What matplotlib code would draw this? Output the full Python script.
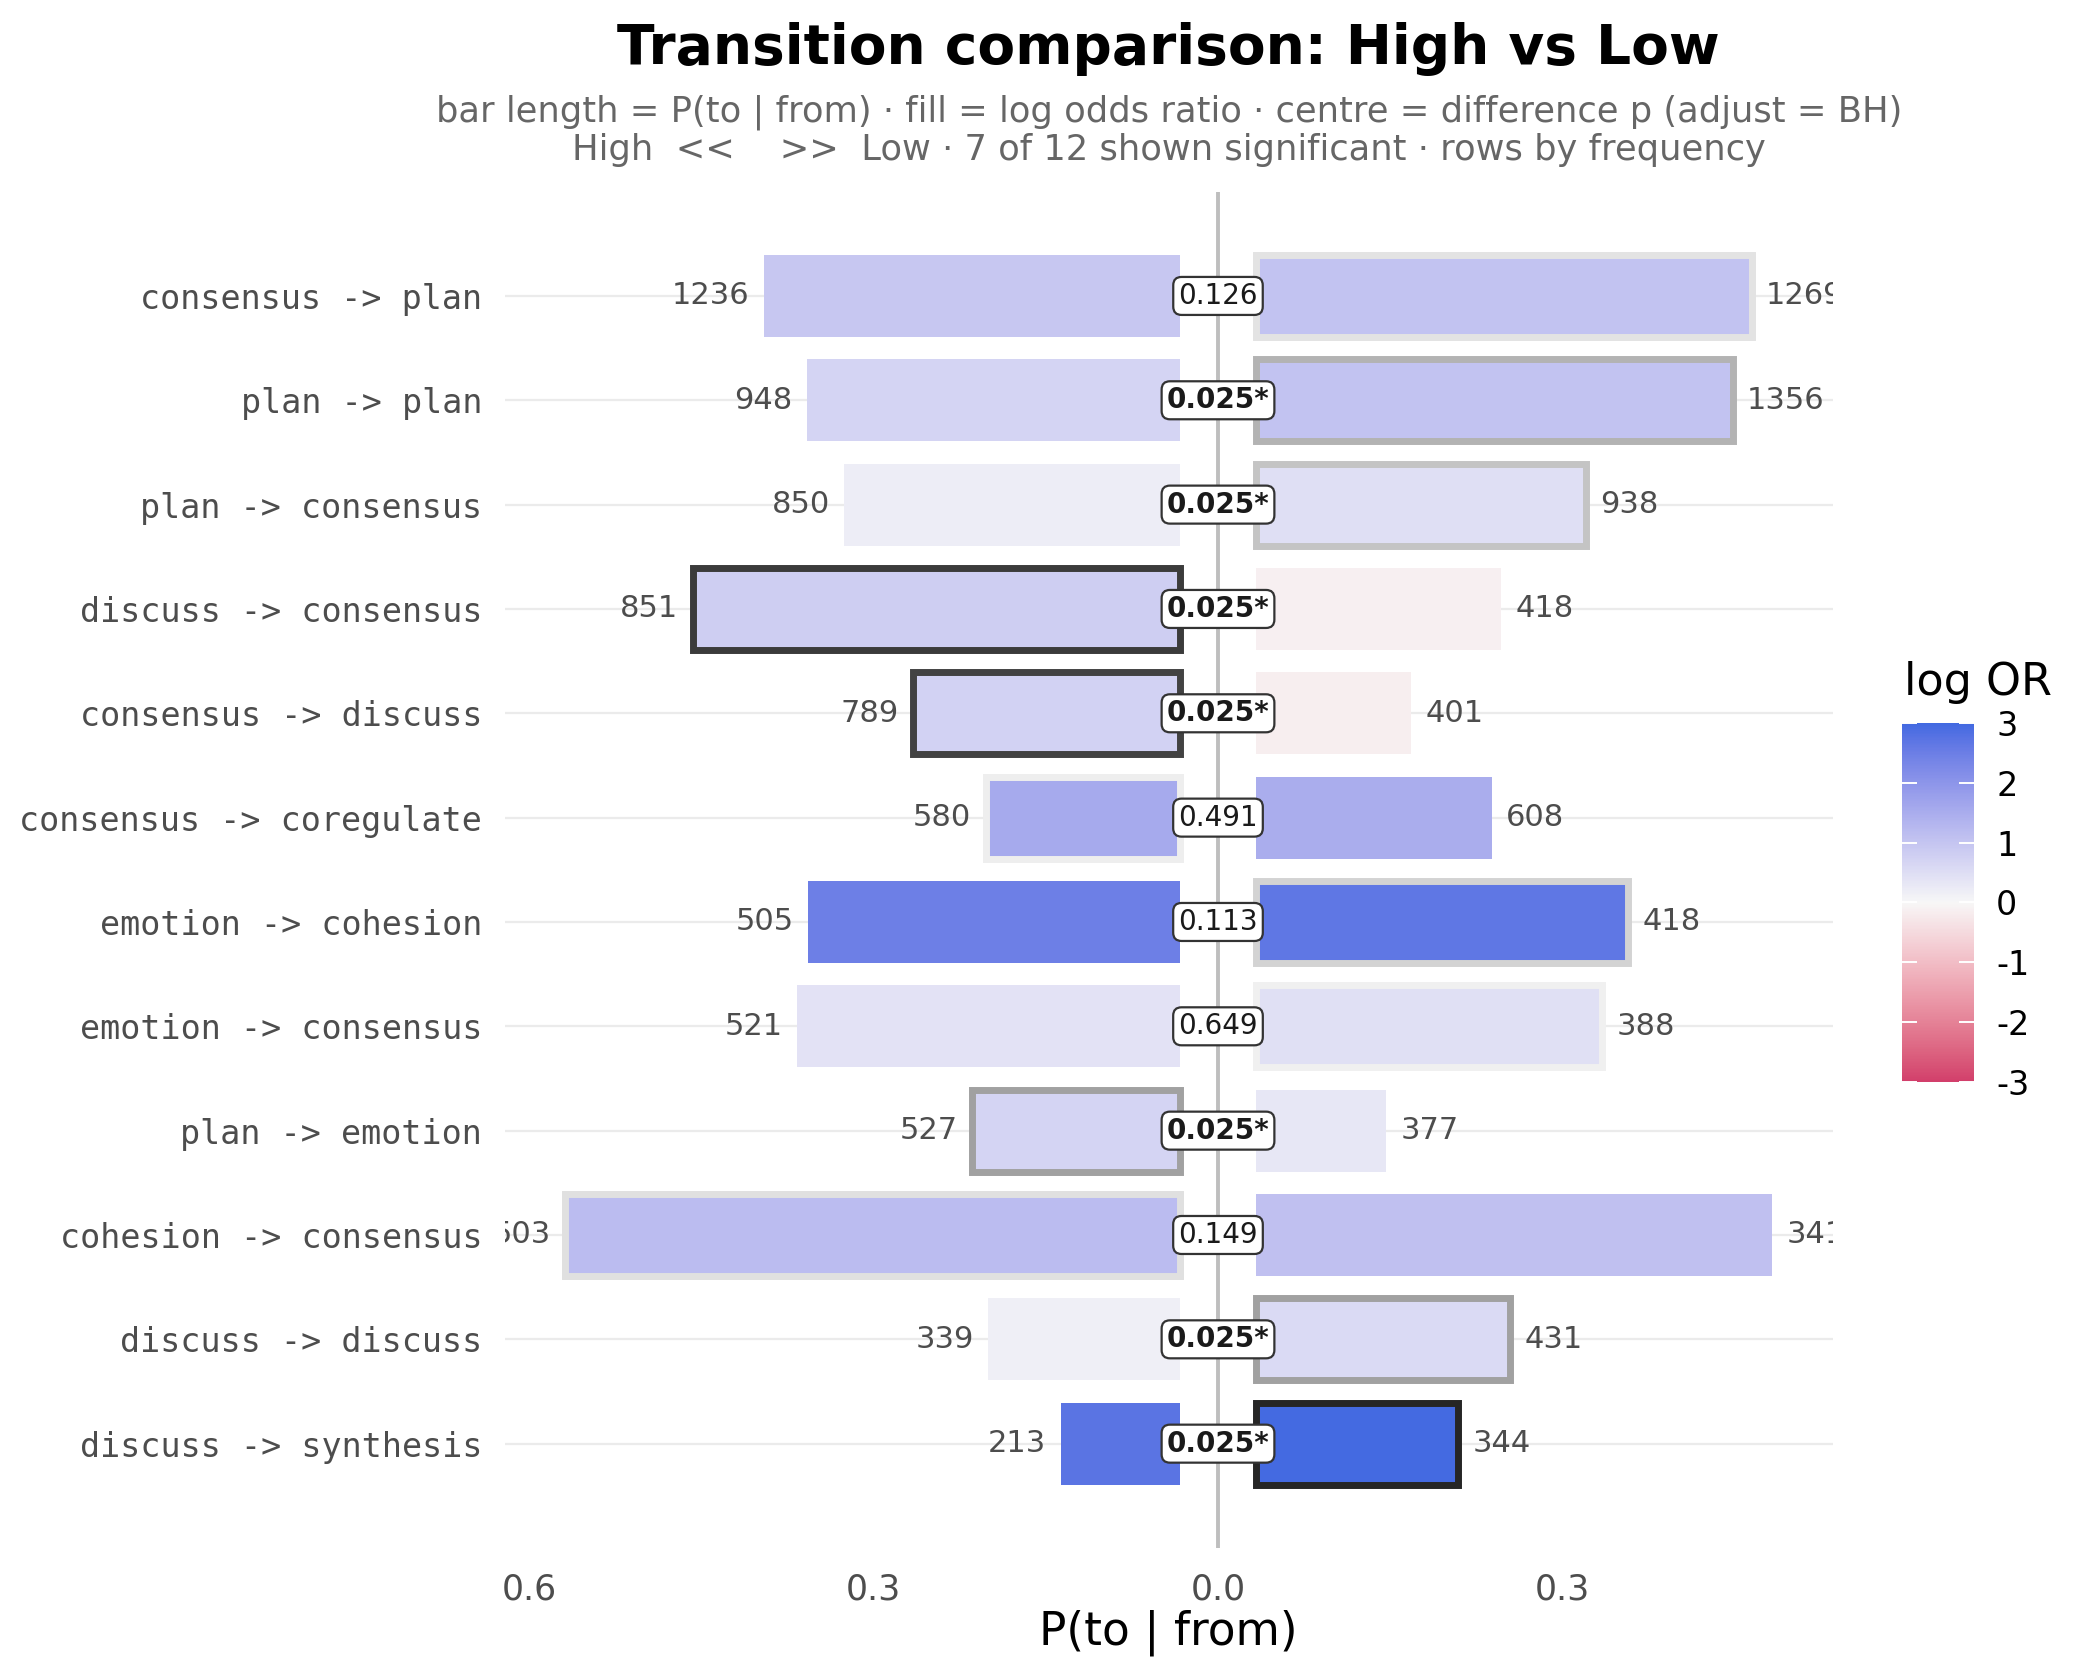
import numpy as np
import matplotlib
matplotlib.use("Agg")
import matplotlib.pyplot as plt
import matplotlib.colors as mcolors
from matplotlib.colors import ListedColormap, Normalize
from matplotlib.cm import ScalarMappable

# ---------------- data ----------------
transitions = ["consensus -> plan", "plan -> plan", "plan -> consensus",
               "discuss -> consensus", "consensus -> discuss", "consensus -> coregulate",
               "emotion -> cohesion", "emotion -> consensus", "plan -> emotion",
               "cohesion -> consensus", "discuss -> discuss", "discuss -> synthesis"]
p_high = [0.362, 0.325, 0.292, 0.424, 0.232, 0.169, 0.324, 0.333, 0.181, 0.535, 0.1666, 0.1036]
p_low = [0.4316, 0.415, 0.287, 0.213, 0.1345, 0.205, 0.324, 0.301, 0.113, 0.449, 0.221, 0.1757]
n_high = [1236, 948, 850, 851, 789, 580, 505, 521, 527, 503, 339, 213]
n_low = [1269, 1356, 938, 418, 401, 608, 418, 388, 377, 341, 431, 344]
p_adj = [0.126, 0.025, 0.025, 0.025, 0.025, 0.491, 0.113, 0.649, 0.025, 0.149, 0.025, 0.025]
lor_high = [0.95, 0.68, 0.19, 0.82, 0.74, 1.56, 2.47, 0.40, 0.68, 1.19, 0.16, 2.74]
lor_low = [1.05, 1.05, 0.49, -0.13, -0.15, 1.48, 2.66, 0.46, 0.31, 1.08, 0.58, 2.96]
edge_high = [None, None, None, "#3B3B3B", "#424242", "#EEEEEE", None, None, "#A1A1A1", "#E0E0E0", None, None]
edge_low = ["#E3E3E3", "#B3B3B3", "#C4C4C4", None, None, None, "#D3D3D3", "#F0F0F0", None, None, "#A1A1A1", "#262626"]
x_ticks = [-0.6, -0.3, 0.0, 0.3]
x_ticklabels = ["0.6", "0.3", "0.0", "0.3"]
cbar_ticks = [-3, -2, -1, 0, 1, 2, 3]

# ---------------- colour scale (Lab interpolation like ggplot gradient2) ----------------
LOW, MID, HIGH = "#D23F6B", "#F7F7F7", "#4169E1"
_M = np.array([[0.4124564, 0.3575761, 0.1804375],
               [0.2126729, 0.7151522, 0.0721750],
               [0.0193339, 0.1191920, 0.9503041]])
_W = np.array([0.95047, 1.0, 1.08883])


def to_lab(h):
    rgb = np.array(mcolors.to_rgb(h))
    lin = np.where(rgb <= 0.04045, rgb / 12.92, ((rgb + 0.055) / 1.055) ** 2.4)
    xyz = _M @ lin / _W
    f = np.where(xyz > (6 / 29) ** 3, np.cbrt(xyz), xyz / (3 * (6 / 29) ** 2) + 4 / 29)
    return np.array([116 * f[1] - 16, 500 * (f[0] - f[1]), 200 * (f[1] - f[2])])


def from_lab(lab):
    fy = (lab[0] + 16) / 116
    f = np.array([fy + lab[1] / 500, fy, fy - lab[2] / 200])
    xyz = _W * np.where(f > 6 / 29, f ** 3, 3 * (6 / 29) ** 2 * (f - 4 / 29))
    lin = np.clip(np.linalg.solve(_M, xyz), 0, 1)
    return np.clip(np.where(lin <= 0.0031308, 12.92 * lin, 1.055 * lin ** (1 / 2.4) - 0.055), 0, 1)


lab_low, lab_mid, lab_high = to_lab(LOW), to_lab(MID), to_lab(HIGH)
cols = []
for t in np.linspace(-1, 1, 256):
    if t < 0:
        cols.append(from_lab(lab_mid + (-t) * (lab_low - lab_mid)))
    else:
        cols.append(from_lab(lab_mid + t * (lab_high - lab_mid)))
cmap = ListedColormap(cols)
norm = Normalize(-3, 3)

# ---------------- figure ----------------
plt.rcParams["font.family"] = ["DejaVu Sans"]
fig = plt.figure(figsize=(10.5, 8.4), dpi=200)
W, H = 2100, 1680
PL, PR, PT, PB = 504.5, 1833.0, 191.6, 1548.0
ax = fig.add_axes([PL / W, 1 - PB / H, (PR - PL) / W, (PB - PT) / H])

GAP = 0.0334
BAR_H = 0.785
PAD = 0.0125
rows = np.arange(1, len(transitions) + 1)

for y in rows:
    ax.axhline(y, color="#EBEBEB", lw=0.8, zorder=0)
ax.axvline(0, color="#BEBEBE", lw=1.4, zorder=1)

for i, y in enumerate(rows):
    # High (left)
    ec = edge_high[i]
    ax.barh(y, -p_high[i], left=-GAP, height=BAR_H, color=cmap(norm(lor_high[i])),
            edgecolor=ec if ec else "none", linewidth=2.5 if ec else 0, zorder=2)
    # Low (right)
    ec = edge_low[i]
    ax.barh(y, p_low[i], left=GAP, height=BAR_H, color=cmap(norm(lor_low[i])),
            edgecolor=ec if ec else "none", linewidth=2.5 if ec else 0, zorder=2)
    ax.text(-GAP - p_high[i] - PAD, y, str(n_high[i]), ha="right", va="center",
            fontsize=11, color="#4D4D4D", clip_on=True, zorder=3)
    ax.text(GAP + p_low[i] + PAD, y, str(n_low[i]), ha="left", va="center",
            fontsize=11, color="#4D4D4D", clip_on=True, zorder=3)
    sig = p_adj[i] < 0.05
    lab = f"{p_adj[i]:.3f}" + ("*" if sig else "")
    ax.text(0, y, lab, ha="center", va="center", fontsize=10,
            fontweight="bold" if sig else "normal", color="#1A1A1A", zorder=4,
            bbox=dict(boxstyle="round,pad=0.18,rounding_size=0.3", fc="white",
                      ec="#333333", lw=0.8))

# x-range in data units from panel pixel geometry (zero at 1218 px, 1148 px per unit)
ax.set_xlim(-0.6215, 0.5357)
ax.set_ylim(13.0, 0.0)
ax.set_yticks(rows)
ax.set_yticklabels(transitions, family="DejaVu Sans Mono", fontsize=12, color="#4D4D4D")
ax.set_xticks(x_ticks)
ax.set_xticklabels(x_ticklabels, fontsize=12.5, color="#4D4D4D")
ax.tick_params(axis="both", length=0)
ax.tick_params(axis="y", pad=8)
ax.tick_params(axis="x", pad=9)
for s in ax.spines.values():
    s.set_visible(False)
ax.set_xlabel("P(to | from)", fontsize=16.4, labelpad=1)

cx = (PL + PR) / 2 / W
fig.text(cx, 1 - 49 / H, "Transition comparison: High vs Low", ha="center", va="center",
         fontsize=19.8, fontweight="bold")
fig.text(cx, 1 - 112 / H,
         "bar length = P(to | from) \u00b7 fill = log odds ratio \u00b7 centre = difference p (adjust = BH)",
         ha="center", va="center", fontsize=12.7, color="#666666")
fig.text(cx, 1 - 150 / H,
         "High  <<    >>  Low \u00b7 7 of 12 shown significant \u00b7 rows by frequency",
         ha="center", va="center", fontsize=12.7, color="#666666")

# colour bar
cax = fig.add_axes([1902 / W, 1 - 1081.7 / H, 72 / W, 358.7 / H])
cb = fig.colorbar(ScalarMappable(norm=norm, cmap=cmap), cax=cax)
cb.outline.set_visible(False)
cb.set_ticks(cbar_ticks)
cb.set_ticklabels([str(t) for t in cbar_ticks])
cax.tick_params(axis="y", direction="in", length=5.4, width=0.7, color="white",
                left=True, right=True, labelsize=12, pad=8)
fig.text(1904 / W, 1 - 683 / H, "log OR", ha="left", va="center", fontsize=16)

fig.savefig("out.png", dpi=200, facecolor="white")
